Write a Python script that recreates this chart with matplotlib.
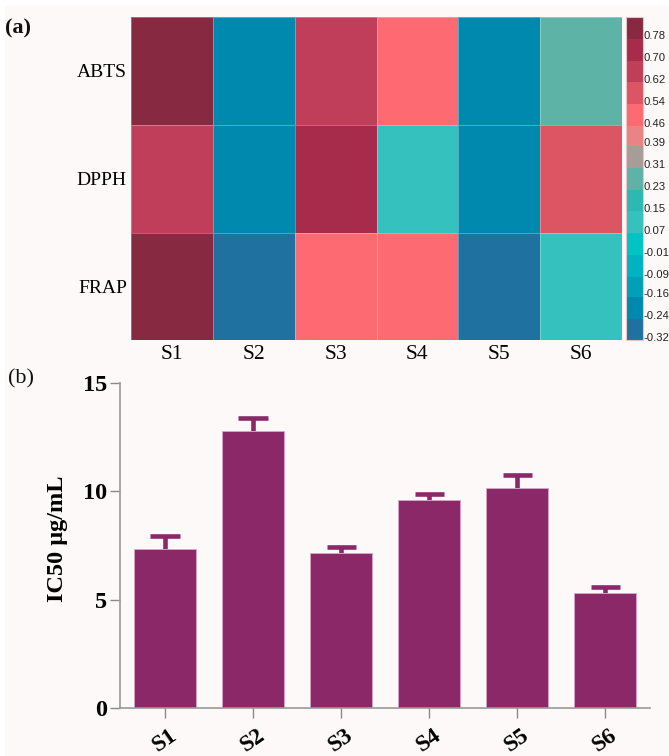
import numpy as np
import matplotlib
matplotlib.use("Agg")
import matplotlib.pyplot as plt
from matplotlib.colors import ListedColormap, BoundaryNorm
from matplotlib.patches import Rectangle

# ---------------- data ----------------
samples = ["S1", "S2", "S3", "S4", "S5", "S6"]
assays = ["ABTS", "DPPH", "FRAP"]
abts = [0.80, -0.23, 0.63, 0.47, -0.23, 0.24]
dpph = [0.63, -0.23, 0.71, 0.08, -0.23, 0.55]
frap = [0.80, -0.31, 0.47, 0.47, -0.31, 0.08]
cbar_labels = ["-0.32", "-0.24", "-0.16", "-0.09", "-0.01", "0.07", "0.15", "0.23",
               "0.31", "0.39", "0.46", "0.54", "0.62", "0.70", "0.78"]
cbar_colors = ["#1f71a0", "#0089ae", "#00a0b8", "#00b2c2", "#00c3c3", "#35c1bd",
               "#2cb9b2", "#5db3a5", "#a89c99", "#e88484", "#fd6a72", "#db5563",
               "#c13e5a", "#a72b4a", "#862941"]

ic50 = [7.36, 12.78, 7.16, 9.62, 10.17, 5.31]
ic50_err = [0.60, 0.60, 0.26, 0.26, 0.58, 0.28]

# ---------------- figure ----------------
W, H = 669, 756
fig = plt.figure(figsize=(W / 100, H / 100), dpi=100, facecolor="white")
BG = "#fdf9f8"
fig.patches.append(Rectangle((5 / W, 0), 1, 1 - 6 / H, transform=fig.transFigure,
                             facecolor=BG, edgecolor="none", zorder=-10))

def px_axes(x0, y0, x1, y1):
    return fig.add_axes([x0 / W, 1 - y1 / H, (x1 - x0) / W, (y1 - y0) / H])

serif = "Liberation Serif"
sans = "Liberation Sans"

# ---------------- (a) heatmap ----------------
label_vals = np.array([float(s) for s in cbar_labels])
d = (label_vals[-1] - label_vals[0]) / (len(label_vals) - 1)
bounds = np.concatenate([label_vals - 0.15 * d, [label_vals[-1] + 0.85 * d]])
cmap = ListedColormap(cbar_colors)
norm = BoundaryNorm(bounds, cmap.N)

axh = px_axes(131, 17, 622, 340.5)
data = np.array([abts, dpph, frap])
axh.pcolormesh(np.arange(len(samples) + 1), np.arange(len(assays) + 1), data,
               cmap=cmap, norm=norm, edgecolors=(1, 1, 1, 0.3), linewidth=0.5)
axh.set_xlim(0, len(samples))
axh.set_ylim(len(assays), 0)
axh.set_xticks(np.arange(len(samples)) + 0.5)
axh.set_xticklabels(samples, fontfamily=serif, fontsize=15.5)
axh.set_yticks(np.arange(len(assays)) + 0.5)
axh.set_yticklabels(assays, fontfamily=serif, fontsize=14)
axh.tick_params(length=0, pad=3)
axh.tick_params(axis="x", pad=3)
for s in axh.spines.values():
    s.set_visible(False)

# colorbar
axc = px_axes(625.5, 17, 643, 340.5)
cb = fig.colorbar(matplotlib.cm.ScalarMappable(norm=norm, cmap=cmap), cax=axc,
                  boundaries=bounds, spacing="proportional")
cb.ax.minorticks_off()
cb.set_ticks(label_vals)
cb.set_ticklabels(cbar_labels)
cb.ax.tick_params(which="both", length=0, pad=0.3, labelsize=8.1)
for t in cb.ax.get_yticklabels():
    t.set_fontfamily(sans)
    t.set_color("#222222")
cb.outline.set_edgecolor("#e6c4c8")
cb.outline.set_linewidth(0.8)

fig.text(5 / W, 1 - 28 / H, "(a)", fontfamily=serif, fontsize=16, fontweight="bold",
         va="center", ha="left", color="#111111")

# ---------------- (b) bar chart ----------------
axb = px_axes(120, 383, 650, 708)
axb.set_facecolor("none")
x = np.arange(len(samples))
bar_color = "#8b2868"
tops = np.array(ic50) + np.array(ic50_err)
axb.vlines(x, ic50, tops, color=bar_color, linewidth=3.3, zorder=1)
axb.hlines(tops, x - 0.165, x + 0.165, color=bar_color, linewidth=3.3, zorder=1)
axb.bar(x, ic50, width=0.705, color=bar_color, edgecolor="#d8a6c6", linewidth=0.6,
        zorder=2)
axb.set_xlim(-0.511, 5.51)
axb.set_ylim(0, 15)
axb.set_yticks([0, 5, 10, 15])
axb.set_xticks(x)
axb.set_xticklabels(samples, rotation=35, fontfamily=serif, fontsize=17,
                    fontweight="bold")
for t in axb.get_yticklabels():
    t.set_fontfamily(serif)
    t.set_fontsize(17.5)
    t.set_fontweight("bold")
axb.tick_params(axis="both", length=7, width=1, color="#8a8a8a", direction="out")
axb.tick_params(axis="y", pad=2)
axb.tick_params(axis="x", pad=5)
for side in ["top", "right"]:
    axb.spines[side].set_visible(False)
for side in ["left", "bottom"]:
    axb.spines[side].set_color("#9a9a9a")
    axb.spines[side].set_linewidth(1.2)

fig.text(57 / W, 1 - 539 / H, "IC50 μg/mL", rotation=90, fontfamily=serif,
         fontsize=17.5, fontweight="bold", ha="center", va="center")
fig.text(8 / W, 1 - 379 / H, "(b)", fontfamily=serif, fontsize=16,
         va="center", ha="left", color="#111111")

fig.savefig("out.png", dpi=100, facecolor=fig.get_facecolor())
